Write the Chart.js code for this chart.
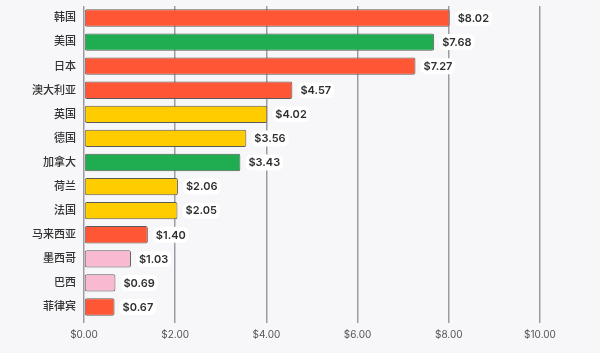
<!DOCTYPE html>
<html>
<head>
<meta charset="utf-8">
<script src="https://cdn.jsdelivr.net/npm/chart.js@4"></script>
<style>
  html, body { margin: 0; padding: 0; background: #f7f7f9; }
  #wrap { width: 600px; height: 353px; }
</style>
</head>
<body>
<div id="wrap"><canvas id="myChart" width="600" height="353"></canvas></div>
<script>
const countries = ["韩国", "美国", "日本", "澳大利亚", "英国", "德国", "加拿大", "荷兰", "法国", "马来西亚", "墨西哥", "巴西", "菲律宾"];
const prices = [8.02, 7.68, 7.27, 4.57, 4.02, 3.56, 3.43, 2.06, 2.05, 1.40, 1.03, 0.69, 0.67];
const barColors = ["#ff5736", "#20ac50", "#ff5736", "#ff5736", "#ffcc00", "#ffcc00", "#20ac50", "#ffcc00", "#ffcc00", "#ff5736", "#f9b9d1", "#f9b9d1", "#ff5736"];
const xTicks = [0, 2, 4, 6, 8, 10];

const fontFam = "Inter, 'Noto Sans CJK SC', sans-serif";

// draws the $ value after each bar on a white rounded box
const valueLabels = {
	id: 'valueLabels',
	afterDatasetsDraw(chart) {
		const ctx = chart.ctx;
		const meta = chart.getDatasetMeta(0);
		ctx.save();
		ctx.font = "600 11px " + fontFam;
		ctx.textBaseline = 'middle';
		meta.data.forEach(function(bar, i) {
			const txt = "$" + prices[i].toFixed(2);
			const w = ctx.measureText(txt).width;
			const x = bar.x + 8;
			ctx.fillStyle = '#ffffff';
			ctx.beginPath();
			ctx.roundRect(x - 3, bar.y - 8, w + 6, 16, 6);
			ctx.fill();
			ctx.fillStyle = '#2e2e2e';
			ctx.fillText(txt, x, bar.y + 0.5);
		});
		ctx.restore();
	}
};

const ctx = document.getElementById("myChart").getContext("2d");
const myChart = new Chart(ctx, {
	type: 'bar',
	data: {
		labels: countries,
		datasets: [{
			data: prices,
			backgroundColor: barColors,
			borderColor: '#5a5a5a',
			borderWidth: 1,
			borderRadius: 2,
			borderSkipped: false,
			barPercentage: 0.72,
			categoryPercentage: 1
		}]
	},
	options: {
		indexAxis: 'y',
		responsive: false,
		animation: false,
		layout: { padding: { top: 6, right: 60, bottom: 6, left: 0 } },
		plugins: {
			legend: { display: false },
			tooltip: { enabled: false }
		},
		scales: {
			x: {
				min: 0,
				max: 10,
				afterBuildTicks: function(axis) {
					axis.ticks = xTicks.map(v => ({ value: v }));
				},
				grid: { color: '#9b9ba6', lineWidth: 1.5, tickLength: 4 },
				border: { display: false },
				ticks: {
					color: '#555555',
					font: { family: fontFam, size: 10 },
					padding: 6,
					callback: function(value) {
						return "$" + Number(value).toFixed(2);
					}
				}
			},
			y: {
				afterFit: function(axis) {
					axis.width = 84;
					axis.paddingTop = 0;
					axis.paddingBottom = 0;
				},
				grid: { display: false, drawTicks: false },
				border: { display: false },
				ticks: {
					color: '#333333',
					font: { family: fontFam, size: 11, weight: 500 },
					padding: 8
				}
			}
		}
	},
	plugins: [valueLabels]
});
</script>
</body>
</html>
